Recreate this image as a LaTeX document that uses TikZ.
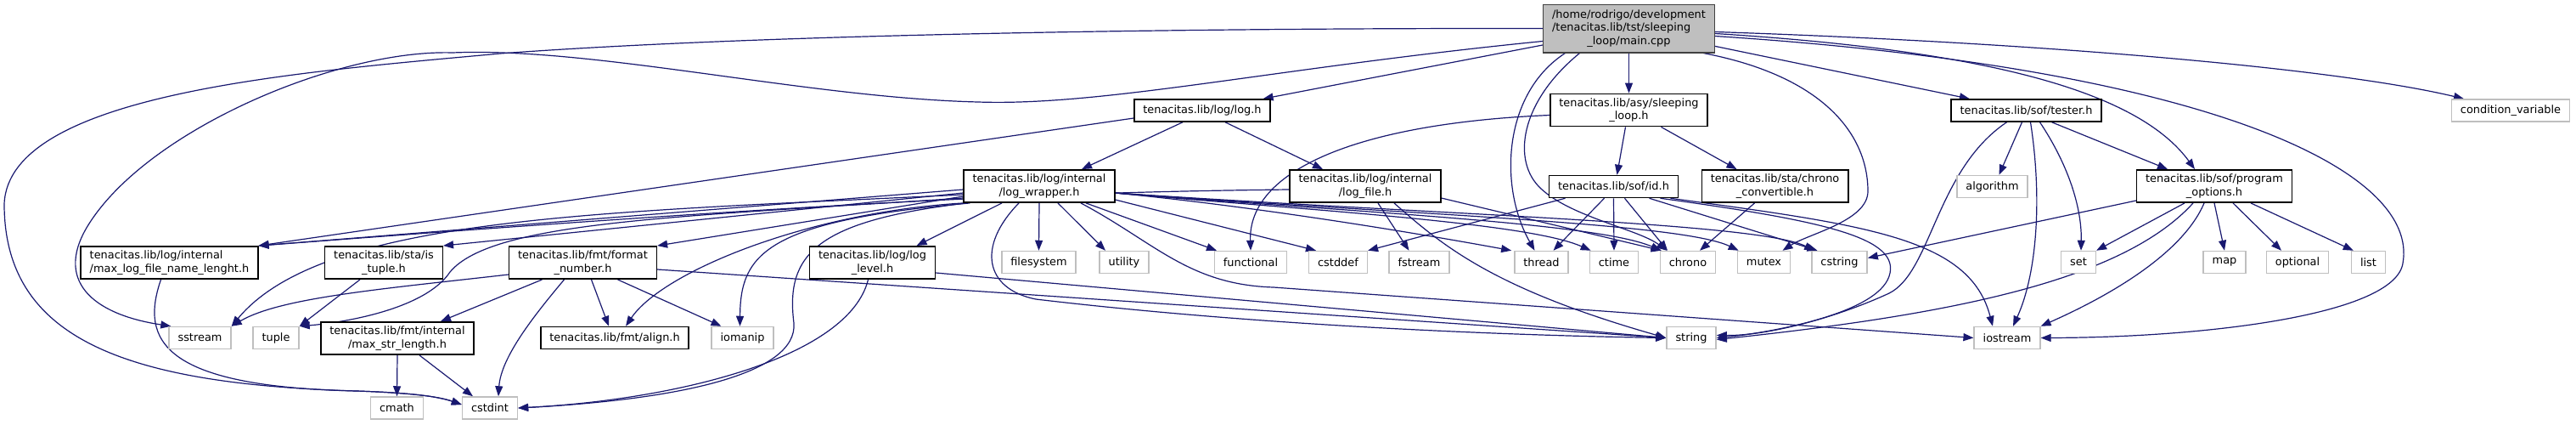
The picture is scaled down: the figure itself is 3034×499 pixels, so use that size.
\documentclass[tikz,border=0pt]{standalone}
\usepackage{fontspec}
\usepackage{tikz}
\usetikzlibrary{arrows.meta,backgrounds}
\newfontfamily\doxyfont{DejaVu Sans}
\definecolor{edgeblue}{HTML}{191970}
\definecolor{sysgray}{HTML}{BFBFBF}
\definecolor{rootedge}{HTML}{404040}

\begin{document}
\begin{tikzpicture}[
  x=1pt, y=-1pt,
  hdr/.style={draw=black, line width=1.5pt, fill=white, align=center, inner xsep=10.5pt, inner ysep=5pt, minimum height=26pt, font=\doxyfont\fontsize{12.9}{15.5}\selectfont},
  sys/.style={hdr, draw=sysgray},
  root/.style={hdr, draw=rootedge, fill=sysgray},
  arrow/.style={-{Triangle[length=12pt,width=9pt]}, line width=1.2pt, draw=edgeblue}
]
\useasboundingbox (0,0) rectangle (3034,499);

% top two rows
\node[root] (main) at (1918.5,33.5) {\begin{tabular}{@{}l@{}}/home/rodrigo/development\\/tenacitas.lib/tst/sleeping\\\multicolumn{1}{@{}c@{}}{\_loop/main.cpp}\end{tabular}};
\node[hdr] (logh) at (1416,130) {tenacitas.lib/log/log.h};
\node[hdr] (sleep) at (1918.5,129.5) {tenacitas.lib/asy/sleeping\\\_loop.h};
\node[hdr] (tester) at (2386.5,130) {tenacitas.lib/sof/tester.h};
\node[sys] (condvar) at (2957,130) {condition\_variable};

% third row
\node[hdr] (logwrap) at (1224,219) {tenacitas.lib/log/internal\\/log\_wrapper.h};
\node[hdr] (logfile) at (1608,219) {tenacitas.lib/log/internal\\/log\_file.h};
\node[hdr] (id) at (1900.5,219.5) {tenacitas.lib/sof/id.h};
\node[hdr] (chronoconv) at (2090.5,219) {tenacitas.lib/sta/chrono\\\_convertible.h};
\node[sys] (algorithm) at (2346.5,219.5) {algorithm};
\node[hdr] (progopt) at (2608,219) {tenacitas.lib/sof/program\\\_options.h};

% fourth row
\node[hdr, align=left] (maxlog) at (199.5,309) {tenacitas.lib/log/internal\\/max\_log\_file\_name\_lenght.h};
\node[hdr] (istuple) at (452,309) {tenacitas.lib/sta/is\\\_tuple.h};
\node[hdr] (fmtnum) at (686.5,309) {tenacitas.lib/fmt/format\\\_number.h};
\node[hdr] (loglevel) at (1027.5,309) {tenacitas.lib/log/log\\\_level.h};
\node[sys] (filesystem) at (1223.5,308.5) {filesystem};
\node[sys] (utility) at (1324,308.5) {utility};
\node[sys] (functional) at (1473,308.5) {functional};
\node[sys] (cstddef) at (1576,308.5) {cstddef};
\node[sys] (fstream) at (1671.5,308.5) {fstream};
\node[sys] (thread) at (1815.5,308.5) {thread};
\node[sys] (ctime) at (1901,308.5) {ctime};
\node[sys] (chrono) at (1988,308.5) {chrono};
\node[sys] (mutex) at (2077.5,308.5) {mutex};
\node[sys] (cstring) at (2166.5,308.5) {cstring};
\node[sys] (set) at (2448,308.5) {set};
\node[sys] (map) at (2620,308.5) {map};
\node[sys] (optional) at (2706,308.5) {optional};
\node[sys] (list) at (2789.5,308.5) {list};

% bottom rows
\node[sys] (sstream) at (235.5,397.5) {sstream};
\node[sys] (tuple) at (325,397.5) {tuple};
\node[hdr] (maxstr) at (468,398) {tenacitas.lib/fmt/internal\\/max\_str\_length.h};
\node[hdr] (alignh) at (724,397.5) {tenacitas.lib/fmt/align.h};
\node[sys] (iomanip) at (874.5,397.5) {iomanip};
\node[sys] (string) at (1992,397.5) {string};
\node[sys] (iostream) at (2364,397.5) {iostream};
\node[sys] (cmath) at (467.5,480) {cmath};
\node[sys] (cstdint) at (577,480) {cstdint};

\begin{scope}[on background layer]
\fill[white] (0,0) rectangle (3034,499);
% main.cpp
\draw[arrow] (main) -- (logh);
\draw[arrow] (main) -- (sleep);
\draw[arrow] (main) -- (tester);
\draw[arrow] ([yshift=-4pt]main.east) .. controls (2400,50) and (2750,80) .. ([xshift=-55pt]condvar.north);
\draw[arrow] ([yshift=-6pt]main.east) .. controls (2350,60) and (2520,110) .. ([xshift=-23pt]progopt.north);
\draw[arrow] ([yshift=-9pt]main.east) .. controls (2600,80) and (2850,200) .. (2830,310) .. controls (2820,370) and (2600,397) .. (iostream.east);
\draw[arrow] ([xshift=-14pt]main.south east) .. controls (2150,90) and (2200,160) .. (2200,225) .. controls (2200,260) and (2130,275) .. ([xshift=22pt]mutex.north);
\draw[arrow] ([xshift=-75pt]main.south) .. controls (1770,110) and (1765,220) .. ([xshift=-8pt]thread.north);
\draw[arrow] ([xshift=-58pt]main.south) .. controls (1790,120) and (1780,190) .. (1815,222) .. controls (1850,255) and (1930,270) .. ([xshift=-25pt]chrono.north);
\draw[arrow] ([yshift=-15pt]main.west) .. controls (1500,80) and (1300,125) .. (1152,120) .. controls (950,115) and (700,55) .. (533,62) .. controls (400,58) and (180,150) .. (107,260) .. controls (60,330) and (110,370) .. ([xshift=3pt]sstream.north west);
\draw[arrow] (main.west) .. controls (1400,33) and (900,40) .. (589,63) .. controls (350,85) and (10,110) .. (5,240) .. controls (5,400) and (150,452) .. (420,460) .. controls (480,462) and (515,466) .. ([yshift=4pt]cstdint.west);
% log.h
\draw[arrow] ([xshift=-23pt]logh.south) -- ([xshift=50pt]logwrap.north);
\draw[arrow] ([xshift=27pt]logh.south) -- ([xshift=-50pt]logfile.north);
\draw[arrow] ([yshift=-9pt]logh.west) -- (maxlog.north east);
% sleeping_loop.h
\draw[arrow] ([xshift=-4pt]sleep.south) -- ([xshift=4pt]id.north);
\draw[arrow] ([xshift=38pt]sleep.south) -- ([xshift=-45pt]chronoconv.north);
\draw[arrow] ([yshift=-6pt]sleep.west) .. controls (1600,145) and (1470,200) .. (functional.north);
% tester.h
\draw[arrow] ([xshift=-5pt]tester.south) -- ([xshift=8pt]algorithm.north);
\draw[arrow] ([xshift=30pt]tester.south) -- ([xshift=-55pt]progopt.north);
\draw[arrow] ([xshift=16pt]tester.south) .. controls (2440,200) and (2452,250) .. ([xshift=3pt]set.north);
\draw[arrow] ([xshift=5pt]tester.south) .. controls (2405,230) and (2400,320) .. ([xshift=7pt]iostream.north);
\draw[arrow] ([xshift=-23pt]tester.south) .. controls (2280,200) and (2275,320) .. (2225,345) .. controls (2160,375) and (2080,395) .. ([yshift=3pt]string.east);
% log_wrapper.h
\draw[arrow] ([yshift=-4pt]logwrap.west) -- (maxlog.north east);
\draw[arrow] ([yshift=-8pt]logwrap.west) -- (istuple.north east);
\draw[arrow] ([yshift=-12pt]logwrap.west) -- (fmtnum.north east);
\draw[arrow] ([yshift=-10pt]logwrap.west) .. controls (700,250) and (380,255) .. (sstream.north east);
\draw[arrow] ([yshift=-14pt]logwrap.west) .. controls (800,255) and (580,260) .. (530,320) .. controls (500,365) and (400,380) .. (tuple.north east);
\draw[arrow] (logwrap.south west) .. controls (950,250) and (780,320) .. ([xshift=13pt]alignh.north);
\draw[arrow] ([xshift=8pt]logwrap.south west) .. controls (900,260) and (872,300) .. ([xshift=-3pt]iomanip.north);
\draw[arrow] ([xshift=4pt]logwrap.south west) .. controls (960,260) and (925,300) .. (935,380) .. controls (940,440) and (800,470) .. (cstdint.east);
\draw[arrow] ([xshift=-44pt]logwrap.south) -- ([xshift=52pt]loglevel.north);
\draw[arrow] ([xshift=-24pt]logwrap.south) .. controls (1150,290) and (1160,340) .. (1220,352) .. controls (1500,385) and (1800,395) .. (string.west);
\draw[arrow] (logwrap.south) -- (filesystem.north);
\draw[arrow] ([xshift=22pt]logwrap.south) -- ([xshift=-22pt]utility.north);
\draw[arrow] ([xshift=49pt]logwrap.south) .. controls (1360,285) and (1400,335) .. (1500,338) -- (iostream.west);
\draw[arrow] ([xshift=55pt]logwrap.south) -- ([xshift=-40pt]functional.north);
\draw[arrow] ([yshift=-16pt]logwrap.east) -- ([xshift=-26pt]cstddef.north);
\draw[arrow] ([yshift=-8pt]logwrap.east) .. controls (1500,245) and (1700,280) .. ([xshift=-3pt]thread.north west);
\draw[arrow] ([yshift=-8pt]logwrap.east) .. controls (1550,248) and (1800,262) .. ([xshift=2pt]ctime.north west);
\draw[arrow] ([yshift=-8pt]logwrap.east) .. controls (1600,250) and (1880,262) .. ([xshift=2pt]chrono.north west);
\draw[arrow] ([yshift=-8pt]logwrap.east) .. controls (1650,252) and (1980,262) .. ([xshift=2pt]mutex.north west);
\draw[arrow] ([yshift=-8pt]logwrap.east) .. controls (1700,253) and (2070,262) .. ([xshift=4pt]cstring.north west);
% log_file.h
\draw[arrow] ([yshift=-4pt]logfile.west) .. controls (1250,226) and (1000,236) .. (maxlog.north east);
\draw[arrow] ([xshift=15pt]logfile.south) -- ([xshift=-12pt]fstream.north);
\draw[arrow] ([xshift=34pt]logfile.south) .. controls (1700,290) and (1760,340) .. (string.west);
\draw[arrow] ([yshift=-14pt]logfile.east) -- ([xshift=2pt]chrono.north west);
% id.h
\draw[arrow] ([xshift=-57pt]id.south) -- (cstddef.north east);
\draw[arrow] ([xshift=-11pt]id.south) -- ([xshift=14pt]thread.north);
\draw[arrow] (id.south) -- (ctime.north);
\draw[arrow] ([xshift=13pt]id.south) -- ([xshift=-24pt]chrono.north);
\draw[arrow] ([xshift=42pt]id.south) -- ([xshift=-26pt]cstring.north);
\draw[arrow] ([xshift=55pt]id.south) .. controls (2150,260) and (2240,280) .. (2225,325) .. controls (2210,370) and (2080,392) .. (string.east);
\draw[arrow] ([xshift=67pt]id.south) .. controls (2200,265) and (2320,280) .. ([xshift=-17pt]iostream.north);
% chrono_convertible.h
\draw[arrow] ([xshift=-24pt]chronoconv.south) -- ([xshift=14pt]chrono.north);
% program_options.h
\draw[arrow] ([yshift=-17pt]progopt.west) -- ([yshift=5pt]cstring.east);
\draw[arrow] ([xshift=-35pt]progopt.south) -- (set.north east);
\draw[arrow] ([xshift=-25pt]progopt.south) .. controls (2500,330) and (2300,370) .. ([yshift=-2pt]string.east);
\draw[arrow] ([xshift=-12pt]progopt.south) .. controls (2570,300) and (2480,350) .. (iostream.north east);
\draw[arrow] (progopt.south) -- (map.north);
\draw[arrow] ([xshift=22pt]progopt.south) -- ([xshift=-19pt]optional.north);
\draw[arrow] ([xshift=43pt]progopt.south) -- ([xshift=3pt]list.north west);
% format_number.h
\draw[arrow] ([xshift=-48pt]fmtnum.south) -- ([xshift=51pt]maxstr.north);
\draw[arrow] ([yshift=-14pt]fmtnum.west) .. controls (450,340) and (330,350) .. (sstream.north east);
\draw[arrow] ([xshift=-22pt]fmtnum.south) .. controls (630,370) and (590,420) .. ([xshift=10pt]cstdint.north);
\draw[arrow] ([xshift=10pt]fmtnum.south) -- ([xshift=-7pt]alignh.north);
\draw[arrow] ([xshift=41pt]fmtnum.south) -- ([xshift=-25pt]iomanip.north);
\draw[arrow] ([yshift=-8pt]fmtnum.east) -- (string.west);
% log_level.h
\draw[arrow] ([xshift=-5pt]loglevel.south) .. controls (1000,420) and (800,470) .. (cstdint.east);
\draw[arrow] ([yshift=-12pt]loglevel.east) -- (string.west);
% is_tuple.h, max_log_file_name_lenght.h, max_str_length.h
\draw[arrow] ([xshift=-28pt]istuple.south) -- (tuple.north east);
\draw[arrow] ([xshift=-10pt]maxlog.south) .. controls (165,400) and (190,455) .. (420,460) .. controls (480,462) and (515,466) .. ([yshift=4pt]cstdint.west);
\draw[arrow] (maxstr.south) -- (cmath.north);
\draw[arrow] ([xshift=26pt]maxstr.south) -- ([xshift=-20pt]cstdint.north);
\end{scope}
\end{tikzpicture}
\end{document}
